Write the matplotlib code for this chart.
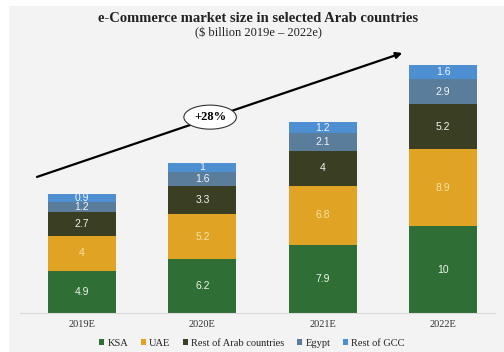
import matplotlib.pyplot as plt
from matplotlib.patches import Rectangle

years = ["2019E", "2020E", "2021E", "2022E"]
series = ["KSA", "UAE", "Rest of Arab countries", "Egypt", "Rest of GCC"]
ksa = [4.9, 6.2, 7.9, 10]
uae = [4, 5.2, 6.8, 8.9]
rest_arab = [2.7, 3.3, 4, 5.2]
egypt = [1.2, 1.6, 2.1, 2.9]
rest_gcc = [0.9, 1, 1.2, 1.6]
growth = "+28%"

colors = ["#2f6f35", "#e0a323", "#3a3f24", "#5a7d9c", "#4d8fd0"]
label_colors = ["#eef3ea", "#f6e3a8", "#f2f2ee", "#f2f4f8", "#f2f6fb"]

fig = plt.figure(figsize=(5.04, 3.52), dpi=100)
fig.patch.set_facecolor("white")
fig.patches.append(Rectangle((9 / 504, 0), 495 / 504, 346 / 352,
                             transform=fig.transFigure, facecolor="#f3f3f3",
                             edgecolor="none", zorder=-5))

ax = fig.add_axes([20 / 504, 39 / 352, 475 / 504, 273 / 352])
ax.set_facecolor("none")
ax.set_zorder(2)

x = range(len(years))
bottom = [0] * len(years)
for vals, name, c, lc in zip([ksa, uae, rest_arab, egypt, rest_gcc], series, colors, label_colors):
    ax.bar(x, vals, width=0.565, bottom=bottom, color=c, label=name, zorder=2)
    for i, v in enumerate(vals):
        ax.text(i, bottom[i] + v / 2, f"{v:g}", ha="center", va="center",
                color=lc, fontsize=7.5, family="Liberation Sans", zorder=3)
    bottom = [b + v for b, v in zip(bottom, vals)]

ax.set_xlim(-0.515, 3.43)
ax.set_ylim(0, 31.5)
for s in ["top", "right", "left"]:
    ax.spines[s].set_visible(False)
ax.spines["bottom"].set_color("#d9d9d9")
ax.set_yticks([])
ax.set_xticks(list(x))
ax.set_xticklabels(years, family="Liberation Serif", fontsize=7.5, color="#333333")
ax.tick_params(axis="x", length=0, pad=5)

# growth arrow with CAGR badge
ax.annotate("", xy=(2.66, 30.0), xytext=(-0.374, 15.7),
            arrowprops=dict(arrowstyle="-|>", color="black", lw=1.6,
                            mutation_scale=9, shrinkA=0, shrinkB=0), zorder=4)
ax.text(1.064, 22.6, growth, ha="center", va="center", fontsize=9,
        family="Liberation Serif", weight="bold", zorder=5,
        bbox=dict(boxstyle="ellipse,pad=0.2", facecolor="white", edgecolor="#333333", lw=0.8))

fig.text(258 / 504, 1 - 19 / 352, "e-Commerce market size in selected Arab countries",
         ha="center", va="center", family="Liberation Serif", weight="bold",
         fontsize=10.5, color="#222222")
fig.text(258 / 504, 1 - 33 / 352, "($ billion 2019e \u2013 2022e)", ha="center", va="center",
         family="Liberation Serif", fontsize=9, color="#222222")

leg = fig.legend(loc="center", bbox_to_anchor=(252 / 504, 9 / 352), ncol=5,
                 frameon=False, handlelength=0.5, handleheight=0.5, handletextpad=0.3,
                 columnspacing=1.2, prop={"family": "Liberation Serif", "size": 7.5})
for t in leg.get_texts():
    t.set_color("#222222")

fig.savefig("out.png", dpi=100, facecolor=fig.get_facecolor())
